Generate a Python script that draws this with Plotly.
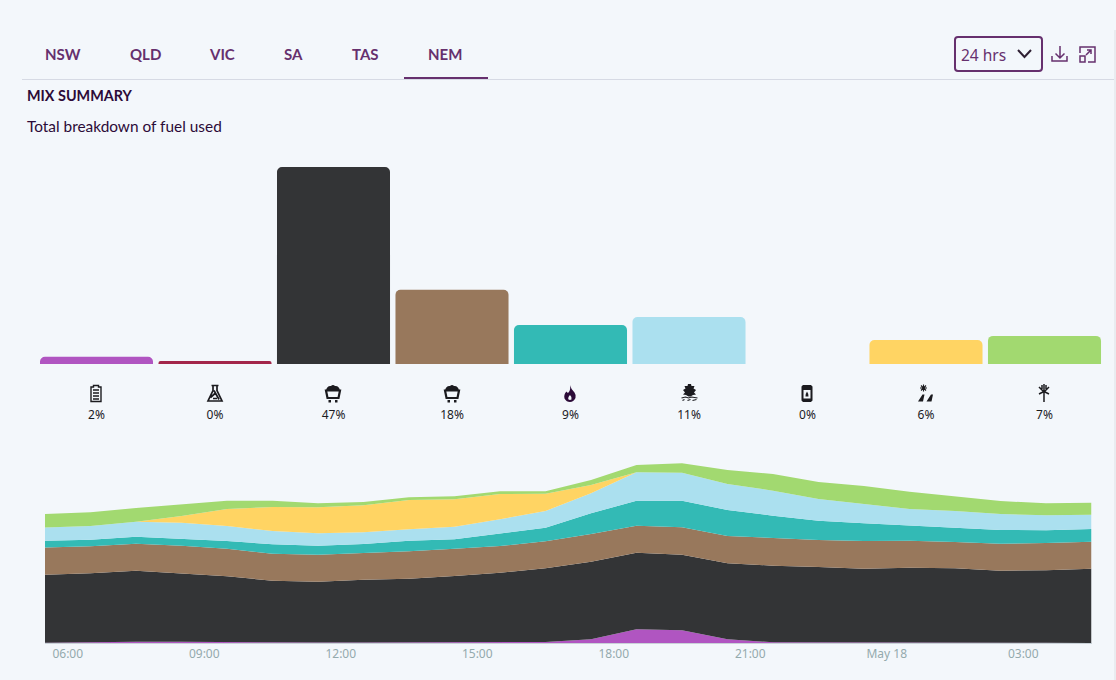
import re
import pandas as pd
import plotly.graph_objects as go

W, H = 1116, 680
BG = "#f3f7fb"
PURPLE = "#66306e"
DARK = "#2c0b38"
INK = "#1b1b1f"

# ---- data ----
tabs = ["NSW", "QLD", "VIC", "SA", "TAS", "NEM"]
tab_centres = [63, 145, 222, 293, 365, 445]

fuels = ["Battery", "Liquid", "Black coal", "Brown coal", "Gas", "Hydro", "Diesel", "Solar", "Wind"]
fuel_share = [1.7, 0.7, 47.0, 17.7, 9.3, 11.2, 0.0, 5.7, 6.7]
share_labels = ["2%", "0%", "47%", "18%", "9%", "11%", "0%", "6%", "7%"]
fuel_colors = ["#b055c1", "#a3264a", "#333436", "#98785c", "#33bab5", "#abe0ef", "#7a7a7a", "#ffd463", "#a2d970"]

hours = pd.date_range("2024-05-17 05:30", periods=24, freq="h").strftime("%Y-%m-%d %H:%M").tolist()
battery = [0.03, 0.09, 0.12, 0.12, 0.08, 0.04, 0.04, 0.04, 0.05, 0.08, 0.05, 0.1, 0.37, 1.37, 1.27, 0.37, 0.08, 0.08, 0.05, 0.1, 0.07, 0.05, 0.03, 0]
black_coal = [6.8, 6.88, 7.11, 6.81, 6.59, 6.19, 6.09, 6.29, 6.38, 6.62, 6.98, 7.37, 7.76, 7.66, 7.56, 7.6, 7.65, 7.52, 7.38, 7.43, 7.4, 7.18, 7.24, 7.43]
brown_coal = [2.73, 2.7, 2.7, 2.8, 2.76, 2.7, 2.7, 2.67, 2.74, 2.73, 2.67, 2.7, 2.77, 2.7, 2.74, 2.73, 2.74, 2.7, 2.77, 2.7, 2.63, 2.7, 2.73, 2.7]
gas = [0.67, 0.66, 0.7, 0.7, 0.77, 0.94, 0.9, 0.9, 1.06, 0.94, 1.27, 1.36, 2.07, 2.5, 2.66, 2.6, 2.26, 1.93, 1.77, 1.54, 1.43, 1.37, 1.27, 1.27]
hydro = [1.33, 1.37, 1.5, 1.6, 1.5, 1.33, 1.24, 1.17, 1.14, 1.26, 1.4, 1.67, 2.0, 2.84, 2.8, 2.6, 2.5, 2.17, 1.93, 1.63, 1.67, 1.6, 1.5, 1.43]
solar = [0, 0, 0, 0.67, 1.7, 2.4, 2.6, 2.7, 2.93, 2.74, 2.53, 1.73, 0.83, 0, 0, 0, 0, 0, 0, 0, 0, 0, 0, 0]
wind = [1.34, 1.37, 1.37, 1.17, 0.83, 0.63, 0.4, 0.33, 0.27, 0.3, 0.27, 0.24, 0.5, 0.73, 0.94, 1.4, 1.67, 1.7, 1.8, 1.73, 1.43, 1.3, 1.2, 1.2]
time_ticks = ["2024-05-17 06:00", "2024-05-17 09:00", "2024-05-17 12:00", "2024-05-17 15:00",
              "2024-05-17 18:00", "2024-05-17 21:00", "2024-05-18 00:00", "2024-05-18 03:00"]
time_labels = ["06:00", "09:00", "12:00", "15:00", "18:00", "21:00", "May 18", "03:00"]


# ---- pixel helpers for page furniture ----
def px(x):
    return x / W


def py(y):
    return 1 - y / H


def path(d, cx=0, cy=0):
    toks = re.findall(r"[MLCQZ]|-?\d+\.?\d*", d)
    out, is_x = [], True
    for t in toks:
        if t in "MLCQZ":
            out.append(t)
            is_x = True
        else:
            v = float(t)
            out.append(f"{px(v + cx):.5f}" if is_x else f"{py(v + cy):.5f}")
            is_x = not is_x
    return " ".join(out)


shapes = []


def draw(d, cx=0, cy=0, fill=None, line=None, lw=1.2):
    shapes.append(dict(type="path", xref="paper", yref="paper", path=path(d, cx, cy),
                       fillcolor=fill if fill else "rgba(0,0,0,0)",
                       line=dict(color=line if line else "rgba(0,0,0,0)", width=lw if line else 0)))


def rect(x0, y0, x1, y1, fill):
    shapes.append(dict(type="rect", xref="paper", yref="paper", x0=px(x0), x1=px(x1), y0=py(y0), y1=py(y1),
                       fillcolor=fill, line=dict(width=0)))


# header furniture
rect(22, 79, 1114, 80, "#d6dae4")
rect(404, 77, 488, 79, PURPLE)
rect(1114, 30, 1116, 680, "#e9ecf0")
draw("M958 37 L1039 37 Q1042 37 1042 40 L1042 68 Q1042 71 1039 71 L958 71 Q955 71 955 68 L955 40 Q955 37 958 37 Z",
     line=PURPLE, lw=2)
draw("M1018 50 L1024.5 57 L1031 50", line="#2f2033", lw=2)
draw("M1060 46 L1060 58 M1055.5 53.5 L1060 58 L1064.5 53.5 M1052 56 L1052 61 L1067 61 L1067 56", line=PURPLE, lw=1.5)
draw("M1080 53 L1080 47 L1095 47 L1095 62 L1088 62 M1086 55 L1091 50 M1087 50 L1091 50 L1091 54", line=PURPLE, lw=1.5)
draw("M1080 56 L1085 56 L1085 62 L1080 62 Z", line=PURPLE, lw=1.5)

# fuel icons
cy = 393.5
draw("M-2.5 -8 L2.5 -8 L2.5 -6.5 L5 -6.5 L5 8 L-5 8 L-5 -6.5 L-2.5 -6.5 Z M-3 -3.5 L3 -3.5 M-3 -0.5 L3 -0.5 M-3 2.5 L3 2.5 M-3 5.5 L3 5.5",
     96, cy, line=INK, lw=1.4)
draw("M-3.5 -8 L3.5 -8 M-2 -8 L-2 -3 L-7 7.5 L7 7.5 L2 -3 L2 -8 M-1 -3 L4 6 M-4.5 4 L0 0 M-2 5 L2 5", 215, cy, line=INK, lw=1.7)
for c in (333, 452):
    draw("M-7 -3 Q-6 -8 -2 -7.5 Q0 -9.5 2 -7.5 Q6 -8 7 -3 Z", c, cy, fill=INK)
    draw("M-7 -3 L7 -3 L5.5 4.5 L-5.5 4.5 Z", c, cy, line=INK, lw=2.2)
    draw("M-4.5 6.5 L-2 6.5 L-2 9 L-4.5 9 Z M2 6.5 L4.5 6.5 L4.5 9 L2 9 Z", c, cy, fill=INK)
draw("M0 -8.5 Q1 -4 4.5 -1 Q6.5 2 5.5 4.5 Q3.5 8.5 0 8.5 Q-3.5 8.5 -5.5 5 Q-6.5 1 -3.5 -2 Q-2.5 0 -1.5 -1 Q1 -4 0 -8.5 Z M0 1.5 Q-2.5 4 -1.5 6 Q0 7 1.5 6 Q2.5 4 0 1.5 Z",
     570, cy, fill=DARK)
draw("M-1.5 -9 L1.5 -9 L2 -7 L5 -7 L4 -4.5 L6.5 -3 L4.5 -0.5 L6.5 1.5 L3.5 2 L1 3.5 L-1 3.5 L-3.5 2 L-6.5 1.5 L-4.5 -0.5 L-6.5 -3 L-4 -4.5 L-5 -7 L-2 -7 Z",
     689.5, cy - 0.5, fill=INK)
draw("M-8 4.5 L-4 3.5 L-1 4.5 L2 3.5 L8 4.5 M-7 7 L-5 6 M-2 7 L1 6 M3 7 L7 6", 689.5, cy, line=INK, lw=1.1)
draw("M-4 -8.5 L4 -8.5 L5.5 -7 L5.5 7 L4 8.5 L-4 8.5 L-5.5 7 L-5.5 -7 Z M-3.5 -3.5 L3.5 -3.5 L3.5 5 L-3.5 5 Z", 807, cy, fill=INK)
draw("M0 -2 Q-2 1 -1.5 3 L1.5 3 Q2 1 0 -2 Z", 807, cy, fill=INK)
draw("M-2.5 -9 L-2.5 -2 M-6 -5.5 L1 -5.5 M-5 -8 L0 -3 M0 -8 L-5 -3", 926, cy, line=INK, lw=1.1)
draw("M-8 8 L-3.5 1 L-1.5 1 L-3 8 Z M0.5 8 L5 1 L7 1 L5.5 8 Z", 926, cy, fill=INK)
draw("M0 -9 L0 9 M0 -1 L-5 -6 M0 -1 L5 -6 M-5 1 L-1 -1 M5 1 L1 -1 M-2 -8 L-2 -4 M2 -8 L2 -4", 1044, cy - 0.5, line=INK, lw=1.5)

# ---- figure ----
fig = go.Figure()
fig.add_trace(go.Bar(x=fuels, y=fuel_share, marker=dict(color=fuel_colors, line=dict(width=0)),
                     xaxis="x", yaxis="y", showlegend=False, hoverinfo="skip"))
for name, vals, col in [("Battery", battery, fuel_colors[0]), ("Black coal", black_coal, fuel_colors[2]),
                        ("Brown coal", brown_coal, fuel_colors[3]), ("Gas", gas, fuel_colors[4]),
                        ("Hydro", hydro, fuel_colors[5]), ("Solar", solar, fuel_colors[7]),
                        ("Wind", wind, fuel_colors[8])]:
    fig.add_trace(go.Scatter(x=hours, y=vals, name=name, mode="lines", stackgroup="one",
                             line=dict(width=0, color=col), fillcolor=col,
                             xaxis="x2", yaxis="y2", showlegend=False, hoverinfo="skip"))

ann = []
for t, c in zip(tabs, tab_centres):
    ann.append(dict(text=f"<b>{t}</b>", x=px(c), y=py(54), xref="paper", yref="paper", showarrow=False,
                    xanchor="center", yanchor="middle", font=dict(family="Lato", size=15, color=PURPLE)))
ann.append(dict(text="<b>MIX SUMMARY</b>", x=px(25), y=py(96), xref="paper", yref="paper", showarrow=False,
                xanchor="left", yanchor="middle", font=dict(family="Lato", size=14.4, color=DARK)))
ann.append(dict(text="Total breakdown of fuel used", x=px(25), y=py(126), xref="paper", yref="paper", showarrow=False,
                xanchor="left", yanchor="middle", font=dict(family="Lato", size=15.4, color=DARK)))
ann.append(dict(text="24 hrs", x=px(983), y=py(55), xref="paper", yref="paper", showarrow=False,
                xanchor="center", yanchor="middle", font=dict(family="Noto Sans", size=15.5, color=PURPLE)))

fig.update_layout(
    width=W, height=H, autosize=False,
    margin=dict(l=0, r=0, t=0, b=0, pad=0),
    paper_bgcolor=BG, plot_bgcolor=BG,
    barcornerradius=5, bargap=0.046,
    shapes=shapes, annotations=ann,
    xaxis=dict(domain=[px(37.25), px(1103.75)], anchor="y", type="category", categoryorder="array",
               categoryarray=fuels, tickmode="array", tickvals=fuels, ticktext=share_labels,
               ticks="outside", ticklen=40, tickcolor="rgba(0,0,0,0)", showline=False, showgrid=False,
               zeroline=False, tickfont=dict(family="Noto Sans", size=12, color=INK)),
    yaxis=dict(domain=[py(364), py(154.4)], range=[0, 50], visible=False, fixedrange=True),
    xaxis2=dict(domain=[px(45), px(1091.5)], anchor="y2", type="date",
                range=[hours[0], hours[-1]], tickmode="array", tickvals=time_ticks, ticktext=time_labels,
                ticks="", showgrid=False, zeroline=False, showline=True, linecolor="#c9d2d8", linewidth=1,
                layer="below traces",
                tickfont=dict(family="Noto Sans", size=12, color="#94aaad")),
    yaxis2=dict(domain=[py(643), py(443)], anchor="x2", range=[0, 20], visible=False, fixedrange=True),
)

fig.write_html("out.html", config=dict(displayModeBar=False),
               post_script=f"document.body.style.margin='0';document.body.style.background='{BG}';")
